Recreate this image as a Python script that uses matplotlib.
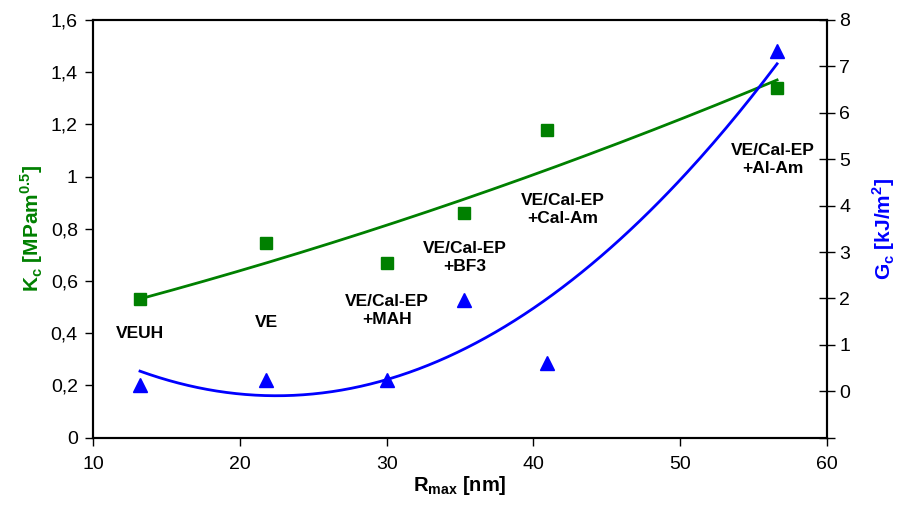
import numpy as np
import matplotlib
matplotlib.use("Agg")
import matplotlib.pyplot as plt
from matplotlib.ticker import FuncFormatter

# Rmax [nm] for each system
r_max = [13.2, 21.8, 30.0, 35.3, 40.9, 56.6]
# fracture toughness Kc [MPam^0.5]
k_c = [0.53, 0.745, 0.67, 0.86, 1.18, 1.34]
# fracture energy Gc [kJ/m^2]
g_c = [0.14, 0.25, 0.25, 1.97, 0.61, 7.33]
labels = ["VEUH", "VE", "VE/Cal-EP\n+MAH", "VE/Cal-EP\n+BF3",
          "VE/Cal-EP\n+Cal-Am", "VE/Cal-EP\n+Al-Am"]
label_x = [13.2, 21.8, 30.0, 35.3, 42.0, 56.3]
label_y = [0.398, 0.44, 0.486, 0.69, 0.873, 1.065]

green = '#008000'
blue = '#0000FF'

plt.rcParams['font.family'] = ['Liberation Sans', 'DejaVu Sans']
plt.rcParams['mathtext.fontset'] = 'custom'
plt.rcParams['mathtext.bf'] = 'Liberation Sans:bold'
plt.rcParams['mathtext.rm'] = 'Liberation Sans'

fig = plt.figure(figsize=(9.13, 5.18), dpi=100)
ax = fig.add_axes([0.1019, 0.155, 0.8039, 0.8064])
ax2 = ax.twinx()

# polynomial trend lines (2nd order, as in the spreadsheet)
xs = np.linspace(min(r_max), max(r_max), 200)
pk = np.polyfit(r_max, k_c, 2)
pg = np.polyfit(r_max, g_c, 2)
ax.plot(xs, np.polyval(pk, xs), color=green, lw=2, zorder=2)
ax2.plot(xs, np.polyval(pg, xs), color=blue, lw=2, zorder=2)

ax.plot(r_max, k_c, 's', color=green, ms=9, zorder=3)
ax2.plot(r_max, g_c, '^', color=blue, ms=10, zorder=3)

for t, x, y in zip(labels, label_x, label_y):
    ax.text(x, y, t, ha='center', va='center', fontsize=12.5,
            fontweight='bold', linespacing=1.25)

ax.set_xlim(10, 60)
ax.set_ylim(0, 1.6)
ax.set_yticks(np.arange(0, 1.61, 0.2))
ax.yaxis.set_major_formatter(FuncFormatter(
    lambda v, p: '0' if abs(v) < 1e-9 else ('1' if abs(v - 1) < 1e-9 else f'{v:.1f}'.replace('.', ','))))
ax2.set_ylim(-1, 8)
ax2.set_yticks(range(-1, 9))
ax2.set_yticklabels([''] + [str(i) for i in range(0, 9)])

ax.tick_params(axis='y', direction='out', length=6, width=1, labelsize=14, pad=5)
ax.tick_params(axis='x', direction='out', length=6, width=1, labelsize=14, pad=7)
ax2.tick_params(axis='y', direction='inout', length=12, width=1, labelsize=14, pad=3)

for a in (ax, ax2):
    for s in a.spines.values():
        s.set_linewidth(1.5)

ax.set_xlabel(r'R$_{\mathbf{max}}$ [nm]', fontsize=14.5, fontweight='bold', labelpad=1)
ax.set_ylabel(r'K$_{\mathbf{c}}$ [MPam$^{\mathbf{0.5}}$]', fontsize=15,
              fontweight='bold', color=green, labelpad=4)
ax2.set_ylabel(r'G$_{\mathbf{c}}$ [kJ/m$^{\mathbf{2}}$]', fontsize=15,
               fontweight='bold', color=blue, labelpad=14)

fig.savefig('out.png', dpi=100)
